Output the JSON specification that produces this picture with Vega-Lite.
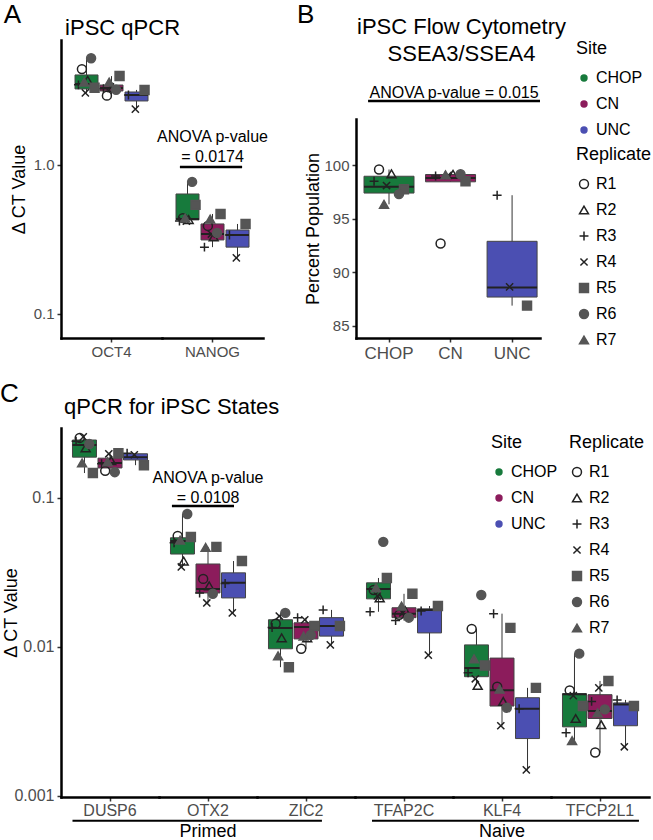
{
"$schema":"https://vega.github.io/schema/vega-lite/v6.json",
"padding":{"left":0,"top":2,"right":0,"bottom":0},
"config":{"view":{"stroke":null},"font":"Liberation Sans",
"axis":{"domainColor":"#000000","domainWidth":2.5,"domainCap":"square","tickColor":"#333333","tickWidth":1.5,"tickSize":4,"labelColor":"#4d4d4d","labelFontSize":15,"titleColor":"#000000","titleFontSize":18,"titleFontWeight":"normal","grid":false,"labelPadding":3},
"legend":{"titleFontSize":18,"titleFontWeight":"normal","labelFontSize":16,"labelColor":"#000000","rowPadding":10,"titlePadding":12,"padding":0}},
"datasets":{
"A":[
{"k":"box","gene":"OCT4","site":"CHOP","lo":3.04,"q1":3.24,"med":3.5,"q3":4.02,"hi":5.2},
{"k":"box","gene":"OCT4","site":"CN","lo":2.9,"q1":3.14,"med":3.29,"q3":3.44,"hi":3.95},
{"k":"box","gene":"OCT4","site":"UNC","lo":2.37,"q1":2.69,"med":2.95,"q3":3.09,"hi":3.19},
{"k":"box","gene":"NANOG","site":"CHOP","lo":0.415,"q1":0.428,"med":0.434,"q3":0.639,"hi":0.77},
{"k":"box","gene":"NANOG","site":"CN","lo":0.281,"q1":0.314,"med":0.344,"q3":0.402,"hi":0.469},
{"k":"box","gene":"NANOG","site":"UNC","lo":0.238,"q1":0.281,"med":0.339,"q3":0.366,"hi":0.402},
{"k":"pt","gene":"OCT4","site":"CHOP","rep":"R1","v":4.4},
{"k":"pt","gene":"OCT4","site":"CHOP","rep":"R2","v":3.7},
{"k":"pt","gene":"OCT4","site":"CHOP","rep":"R3","v":3.45},
{"k":"pt","gene":"OCT4","site":"CHOP","rep":"R4","v":3.05},
{"k":"pt","gene":"OCT4","site":"CHOP","rep":"R5","v":3.3},
{"k":"pt","gene":"OCT4","site":"CHOP","rep":"R6","v":5.2},
{"k":"pt","gene":"OCT4","site":"CHOP","rep":"R7","v":3.6},
{"k":"pt","gene":"OCT4","site":"CN","rep":"R1","v":2.92},
{"k":"pt","gene":"OCT4","site":"CN","rep":"R2","v":3.3},
{"k":"pt","gene":"OCT4","site":"CN","rep":"R3","v":3.25},
{"k":"pt","gene":"OCT4","site":"CN","rep":"R4","v":3.35},
{"k":"pt","gene":"OCT4","site":"CN","rep":"R5","v":3.95},
{"k":"pt","gene":"OCT4","site":"CN","rep":"R6","v":3.2},
{"k":"pt","gene":"OCT4","site":"CN","rep":"R7","v":3.6},
{"k":"pt","gene":"OCT4","site":"UNC","rep":"R3","v":2.95},
{"k":"pt","gene":"OCT4","site":"UNC","rep":"R4","v":2.37},
{"k":"pt","gene":"OCT4","site":"UNC","rep":"R5","v":3.19},
{"k":"pt","gene":"NANOG","site":"CHOP","rep":"R1","v":0.44},
{"k":"pt","gene":"NANOG","site":"CHOP","rep":"R2","v":0.43},
{"k":"pt","gene":"NANOG","site":"CHOP","rep":"R3","v":0.42},
{"k":"pt","gene":"NANOG","site":"CHOP","rep":"R4","v":0.42},
{"k":"pt","gene":"NANOG","site":"CHOP","rep":"R5","v":0.54},
{"k":"pt","gene":"NANOG","site":"CHOP","rep":"R6","v":0.77},
{"k":"pt","gene":"NANOG","site":"CHOP","rep":"R7","v":0.44},
{"k":"pt","gene":"NANOG","site":"CN","rep":"R1","v":0.39},
{"k":"pt","gene":"NANOG","site":"CN","rep":"R2","v":0.329},
{"k":"pt","gene":"NANOG","site":"CN","rep":"R3","v":0.281},
{"k":"pt","gene":"NANOG","site":"CN","rep":"R4","v":0.344},
{"k":"pt","gene":"NANOG","site":"CN","rep":"R5","v":0.469},
{"k":"pt","gene":"NANOG","site":"CN","rep":"R6","v":0.35},
{"k":"pt","gene":"NANOG","site":"CN","rep":"R7","v":0.434},
{"k":"pt","gene":"NANOG","site":"UNC","rep":"R3","v":0.339},
{"k":"pt","gene":"NANOG","site":"UNC","rep":"R4","v":0.238},
{"k":"pt","gene":"NANOG","site":"UNC","rep":"R5","v":0.402},
{"k":"gene","gene":"OCT4"},{"k":"gene","gene":"NANOG"},
{"k":"an1","gene":"NANOG","t":"ANOVA p-value"},
{"k":"an2","gene":"NANOG","t":"=  0.0174"},
{"k":"anl","gene":"NANOG"},
{"k":"letter","gene":"OCT4","t":"A"},
{"k":"title","gene":"OCT4","t":"iPSC qPCR"}
],
"B":[
{"k":"box","site":"CHOP","lo":96.35,"q1":97.4,"med":98.0,"q3":98.97,"hi":99.6},
{"k":"box","site":"CN","lo":98.45,"q1":98.45,"med":98.8,"q3":99.13,"hi":99.2},
{"k":"box","site":"UNC","lo":86.9,"q1":87.7,"med":88.6,"q3":92.9,"hi":97.2},
{"k":"pt","site":"CHOP","rep":"R1","v":99.6},
{"k":"pt","site":"CHOP","rep":"R2","v":99.2},
{"k":"pt","site":"CHOP","rep":"R3","v":98.5},
{"k":"pt","site":"CHOP","rep":"R4","v":98.1},
{"k":"pt","site":"CHOP","rep":"R5","v":97.75},
{"k":"pt","site":"CHOP","rep":"R6","v":97.3},
{"k":"pt","site":"CHOP","rep":"R7","v":96.35},
{"k":"pt","site":"CN","rep":"R1","v":92.7},
{"k":"pt","site":"CN","rep":"R2","v":99.15},
{"k":"pt","site":"CN","rep":"R3","v":99.0},
{"k":"pt","site":"CN","rep":"R4","v":99.05},
{"k":"pt","site":"CN","rep":"R5","v":98.5},
{"k":"pt","site":"CN","rep":"R6","v":99.15},
{"k":"pt","site":"CN","rep":"R7","v":99.1},
{"k":"pt","site":"UNC","rep":"R3","v":97.2},
{"k":"pt","site":"UNC","rep":"R4","v":88.65},
{"k":"pt","site":"UNC","rep":"R5","v":86.9},
{"k":"letter","t":"B"},
{"k":"t1","t":"iPSC Flow Cytometry"},
{"k":"t2","t":"SSEA3/SSEA4"},
{"k":"an","t":"ANOVA p-value = 0.015"},
{"k":"anl"}
],
"C":[
{"k":"box","gene":"DUSP6","site":"CHOP","lo":0.147,"q1":0.188,"med":0.227,"q3":0.245,"hi":0.257},
{"k":"box","gene":"DUSP6","site":"CN","lo":0.149,"q1":0.159,"med":0.172,"q3":0.185,"hi":0.2},
{"k":"box","gene":"DUSP6","site":"UNC","lo":0.166,"q1":0.18,"med":0.188,"q3":0.198,"hi":0.2},
{"k":"box","gene":"OTX2","site":"CHOP","lo":0.0344,"q1":0.042,"med":0.0514,"q3":0.054,"hi":0.078},
{"k":"box","gene":"OTX2","site":"CN","lo":0.0197,"q1":0.023,"med":0.0245,"q3":0.036,"hi":0.0469},
{"k":"box","gene":"OTX2","site":"UNC","lo":0.0169,"q1":0.0213,"med":0.0269,"q3":0.0314,"hi":0.0377},
{"k":"box","gene":"ZIC2","site":"CHOP","lo":0.0073,"q1":0.0097,"med":0.0134,"q3":0.0152,"hi":0.0169},
{"k":"box","gene":"ZIC2","site":"CN","lo":0.0097,"q1":0.0113,"med":0.0136,"q3":0.0145,"hi":0.0157},
{"k":"box","gene":"ZIC2","site":"UNC","lo":0.0103,"q1":0.0118,"med":0.0138,"q3":0.0157,"hi":0.0177},
{"k":"box","gene":"TFAP2C","site":"CHOP","lo":0.0172,"q1":0.021,"med":0.0245,"q3":0.0269,"hi":0.029},
{"k":"box","gene":"TFAP2C","site":"CN","lo":0.015,"q1":0.0157,"med":0.0167,"q3":0.0183,"hi":0.0227},
{"k":"box","gene":"TFAP2C","site":"UNC","lo":0.0088,"q1":0.0124,"med":0.0177,"q3":0.018,"hi":0.0188},
{"k":"box","gene":"KLF4","site":"CHOP","lo":0.0055,"q1":0.0063,"med":0.0072,"q3":0.0103,"hi":0.0132},
{"k":"box","gene":"KLF4","site":"CN","lo":0.00295,"q1":0.004,"med":0.0051,"q3":0.0084,"hi":0.0167},
{"k":"box","gene":"KLF4","site":"UNC","lo":0.00149,"q1":0.00242,"med":0.00384,"q3":0.00455,"hi":0.0053},
{"k":"box","gene":"TFCP2L1","site":"CHOP","lo":0.00234,"q1":0.0029,"med":0.0048,"q3":0.00484,"hi":0.009},
{"k":"box","gene":"TFCP2L1","site":"CN","lo":0.00195,"q1":0.0033,"med":0.0037,"q3":0.00477,"hi":0.0059},
{"k":"box","gene":"TFCP2L1","site":"UNC","lo":0.00213,"q1":0.00295,"med":0.0041,"q3":0.0042,"hi":0.0044},
{"k":"pt","gene":"DUSP6","site":"CHOP","rep":"R1","v":0.253},
{"k":"pt","gene":"DUSP6","site":"CHOP","rep":"R2","v":0.217},
{"k":"pt","gene":"DUSP6","site":"CHOP","rep":"R3","v":0.24},
{"k":"pt","gene":"DUSP6","site":"CHOP","rep":"R4","v":0.257},
{"k":"pt","gene":"DUSP6","site":"CHOP","rep":"R5","v":0.147},
{"k":"pt","gene":"DUSP6","site":"CHOP","rep":"R6","v":0.23},
{"k":"pt","gene":"DUSP6","site":"CHOP","rep":"R7","v":0.172},
{"k":"pt","gene":"DUSP6","site":"CN","rep":"R1","v":0.152},
{"k":"pt","gene":"DUSP6","site":"CN","rep":"R2","v":0.178},
{"k":"pt","gene":"DUSP6","site":"CN","rep":"R3","v":0.17},
{"k":"pt","gene":"DUSP6","site":"CN","rep":"R4","v":0.198},
{"k":"pt","gene":"DUSP6","site":"CN","rep":"R5","v":0.2},
{"k":"pt","gene":"DUSP6","site":"CN","rep":"R6","v":0.149},
{"k":"pt","gene":"DUSP6","site":"CN","rep":"R7","v":0.175},
{"k":"pt","gene":"DUSP6","site":"UNC","rep":"R3","v":0.2},
{"k":"pt","gene":"DUSP6","site":"UNC","rep":"R4","v":0.195},
{"k":"pt","gene":"DUSP6","site":"UNC","rep":"R5","v":0.166},
{"k":"pt","gene":"OTX2","site":"CHOP","rep":"R1","v":0.0556},
{"k":"pt","gene":"OTX2","site":"CHOP","rep":"R2","v":0.0377},
{"k":"pt","gene":"OTX2","site":"CHOP","rep":"R3","v":0.05},
{"k":"pt","gene":"OTX2","site":"CHOP","rep":"R4","v":0.0344},
{"k":"pt","gene":"OTX2","site":"CHOP","rep":"R5","v":0.0547},
{"k":"pt","gene":"OTX2","site":"CHOP","rep":"R6","v":0.078},
{"k":"pt","gene":"OTX2","site":"CHOP","rep":"R7","v":0.052},
{"k":"pt","gene":"OTX2","site":"CN","rep":"R1","v":0.0286},
{"k":"pt","gene":"OTX2","site":"CN","rep":"R2","v":0.0257},
{"k":"pt","gene":"OTX2","site":"CN","rep":"R3","v":0.023},
{"k":"pt","gene":"OTX2","site":"CN","rep":"R4","v":0.0197},
{"k":"pt","gene":"OTX2","site":"CN","rep":"R5","v":0.0469},
{"k":"pt","gene":"OTX2","site":"CN","rep":"R6","v":0.0227},
{"k":"pt","gene":"OTX2","site":"CN","rep":"R7","v":0.0465},
{"k":"pt","gene":"OTX2","site":"UNC","rep":"R3","v":0.0266},
{"k":"pt","gene":"OTX2","site":"UNC","rep":"R4","v":0.0169},
{"k":"pt","gene":"OTX2","site":"UNC","rep":"R5","v":0.0377},
{"k":"pt","gene":"ZIC2","site":"CHOP","rep":"R1","v":0.0143},
{"k":"pt","gene":"ZIC2","site":"CHOP","rep":"R2","v":0.0115},
{"k":"pt","gene":"ZIC2","site":"CHOP","rep":"R3","v":0.0135},
{"k":"pt","gene":"ZIC2","site":"CHOP","rep":"R4","v":0.0161},
{"k":"pt","gene":"ZIC2","site":"CHOP","rep":"R5","v":0.0073},
{"k":"pt","gene":"ZIC2","site":"CHOP","rep":"R6","v":0.0169},
{"k":"pt","gene":"ZIC2","site":"CHOP","rep":"R7","v":0.0087},
{"k":"pt","gene":"ZIC2","site":"CN","rep":"R1","v":0.0097},
{"k":"pt","gene":"ZIC2","site":"CN","rep":"R2","v":0.0115},
{"k":"pt","gene":"ZIC2","site":"CN","rep":"R3","v":0.0157},
{"k":"pt","gene":"ZIC2","site":"CN","rep":"R4","v":0.0152},
{"k":"pt","gene":"ZIC2","site":"CN","rep":"R5","v":0.0138},
{"k":"pt","gene":"ZIC2","site":"CN","rep":"R6","v":0.012},
{"k":"pt","gene":"ZIC2","site":"CN","rep":"R7","v":0.0118},
{"k":"pt","gene":"ZIC2","site":"UNC","rep":"R3","v":0.0177},
{"k":"pt","gene":"ZIC2","site":"UNC","rep":"R4","v":0.0103},
{"k":"pt","gene":"ZIC2","site":"UNC","rep":"R5","v":0.0138},
{"k":"pt","gene":"TFAP2C","site":"CHOP","rep":"R1","v":0.0241},
{"k":"pt","gene":"TFAP2C","site":"CHOP","rep":"R2","v":0.0213},
{"k":"pt","gene":"TFAP2C","site":"CHOP","rep":"R3","v":0.0172},
{"k":"pt","gene":"TFAP2C","site":"CHOP","rep":"R4","v":0.022},
{"k":"pt","gene":"TFAP2C","site":"CHOP","rep":"R5","v":0.029},
{"k":"pt","gene":"TFAP2C","site":"CHOP","rep":"R6","v":0.0507},
{"k":"pt","gene":"TFAP2C","site":"CHOP","rep":"R7","v":0.0249},
{"k":"pt","gene":"TFAP2C","site":"CN","rep":"R1","v":0.0164},
{"k":"pt","gene":"TFAP2C","site":"CN","rep":"R2","v":0.0175},
{"k":"pt","gene":"TFAP2C","site":"CN","rep":"R3","v":0.015},
{"k":"pt","gene":"TFAP2C","site":"CN","rep":"R4","v":0.0169},
{"k":"pt","gene":"TFAP2C","site":"CN","rep":"R5","v":0.0227},
{"k":"pt","gene":"TFAP2C","site":"CN","rep":"R6","v":0.0157},
{"k":"pt","gene":"TFAP2C","site":"CN","rep":"R7","v":0.0188},
{"k":"pt","gene":"TFAP2C","site":"UNC","rep":"R3","v":0.0174},
{"k":"pt","gene":"TFAP2C","site":"UNC","rep":"R4","v":0.0088},
{"k":"pt","gene":"TFAP2C","site":"UNC","rep":"R5","v":0.0188},
{"k":"pt","gene":"KLF4","site":"CHOP","rep":"R1","v":0.0132},
{"k":"pt","gene":"KLF4","site":"CHOP","rep":"R2","v":0.0055},
{"k":"pt","gene":"KLF4","site":"CHOP","rep":"R3","v":0.0067},
{"k":"pt","gene":"KLF4","site":"CHOP","rep":"R4","v":0.0061},
{"k":"pt","gene":"KLF4","site":"CHOP","rep":"R5","v":0.0075},
{"k":"pt","gene":"KLF4","site":"CHOP","rep":"R6","v":0.0223},
{"k":"pt","gene":"KLF4","site":"CHOP","rep":"R7","v":0.0083},
{"k":"pt","gene":"KLF4","site":"CN","rep":"R1","v":0.0054},
{"k":"pt","gene":"KLF4","site":"CN","rep":"R2","v":0.0043},
{"k":"pt","gene":"KLF4","site":"CN","rep":"R3","v":0.0167},
{"k":"pt","gene":"KLF4","site":"CN","rep":"R4","v":0.00295},
{"k":"pt","gene":"KLF4","site":"CN","rep":"R5","v":0.0134},
{"k":"pt","gene":"KLF4","site":"CN","rep":"R6","v":0.0039},
{"k":"pt","gene":"KLF4","site":"CN","rep":"R7","v":0.0052},
{"k":"pt","gene":"KLF4","site":"UNC","rep":"R3","v":0.00384},
{"k":"pt","gene":"KLF4","site":"UNC","rep":"R4","v":0.00149},
{"k":"pt","gene":"KLF4","site":"UNC","rep":"R5","v":0.0053},
{"k":"pt","gene":"TFCP2L1","site":"CHOP","rep":"R1","v":0.0051},
{"k":"pt","gene":"TFCP2L1","site":"CHOP","rep":"R2","v":0.0033},
{"k":"pt","gene":"TFCP2L1","site":"CHOP","rep":"R3","v":0.00265},
{"k":"pt","gene":"TFCP2L1","site":"CHOP","rep":"R4","v":0.0047},
{"k":"pt","gene":"TFCP2L1","site":"CHOP","rep":"R5","v":0.004},
{"k":"pt","gene":"TFCP2L1","site":"CHOP","rep":"R6","v":0.009},
{"k":"pt","gene":"TFCP2L1","site":"CHOP","rep":"R7","v":0.00234},
{"k":"pt","gene":"TFCP2L1","site":"CN","rep":"R1","v":0.00195},
{"k":"pt","gene":"TFCP2L1","site":"CN","rep":"R2","v":0.003},
{"k":"pt","gene":"TFCP2L1","site":"CN","rep":"R3","v":0.0043},
{"k":"pt","gene":"TFCP2L1","site":"CN","rep":"R4","v":0.0053},
{"k":"pt","gene":"TFCP2L1","site":"CN","rep":"R5","v":0.0059},
{"k":"pt","gene":"TFCP2L1","site":"CN","rep":"R6","v":0.0038},
{"k":"pt","gene":"TFCP2L1","site":"CN","rep":"R7","v":0.0036},
{"k":"pt","gene":"TFCP2L1","site":"UNC","rep":"R3","v":0.0044},
{"k":"pt","gene":"TFCP2L1","site":"UNC","rep":"R4","v":0.00213},
{"k":"pt","gene":"TFCP2L1","site":"UNC","rep":"R5","v":0.004},
{"k":"gene","gene":"DUSP6"},{"k":"gene","gene":"OTX2"},{"k":"gene","gene":"ZIC2"},
{"k":"gene","gene":"TFAP2C"},{"k":"gene","gene":"KLF4"},{"k":"gene","gene":"TFCP2L1"},
{"k":"grp","gene":"OTX2","t":"Primed"},{"k":"grp","gene":"KLF4","t":"Naive"},
{"k":"ula","gene":"DUSP6"},{"k":"ulb","gene":"TFAP2C"},{"k":"ulc","gene":"OTX2"},{"k":"ulc","gene":"KLF4"},{"k":"uld","gene":"ZIC2"},{"k":"ule","gene":"TFCP2L1"},
{"k":"an1","gene":"OTX2","t":"ANOVA p-value"},
{"k":"an2","gene":"OTX2","t":"= 0.0108"},
{"k":"anl","gene":"OTX2"},
{"k":"letter","gene":"DUSP6","t":"C"},
{"k":"title","gene":"DUSP6","t":"qPCR for iPSC States"}
]
},
"resolve":{"scale":{"color":"independent","shape":"independent","fill":"independent","stroke":"independent"},"legend":{"color":"independent","shape":"independent","fill":"independent","stroke":"independent"}},
"spacing":20,
"vconcat":[
{"spacing":28,
"resolve":{"scale":{"color":"independent","shape":"independent","fill":"independent","stroke":"independent"},"legend":{"color":"independent","shape":"independent","fill":"independent","stroke":"independent"}},
"hconcat":[
{"data":{"name":"A"},
"facet":{"column":{"field":"gene","type":"nominal","sort":["OCT4","NANOG"],"header":{"title":null,"labels":false}}},
"spacing":0,"bounds":"flush",
"spec":{"width":101,"height":298,
"layer":[
{"transform":[{"filter":"datum.k==='box'"}],"mark":{"type":"rule","color":"#333333","strokeWidth":1},
"encoding":{"x":{"field":"site","type":"nominal","scale":{"type":"band","domain":["CHOP","CN","UNC"],"paddingInner":0.08,"paddingOuter":0.56},"axis":{"values":["CN"],"labels":false},"title":null},
"y":{"field":"lo","type":"quantitative","scale":{"type":"log","domain":[0.069,6.9],"nice":false},"axis":{"values":[0.1,1],"format":".1f","titlePadding":5},"title":"Δ CT Value"},"y2":{"field":"hi"}}},
{"transform":[{"filter":"datum.k==='box'"}],"mark":{"type":"bar","width":23,"stroke":"#444444","strokeWidth":1},
"encoding":{"x":{"field":"site","type":"nominal","title":null},
"y":{"field":"q1","type":"quantitative","title":"Δ CT Value"},"y2":{"field":"q3"},
"color":{"field":"site","type":"nominal","scale":{"domain":["CHOP","CN","UNC"],"range":["#177a3c","#8c1c5c","#4b4fb2"]},"legend":null}}},
{"transform":[{"filter":"datum.k==='box'"}],"mark":{"type":"bar","width":23,"fill":"transparent","stroke":"#222222","strokeWidth":2},
"encoding":{"x":{"field":"site","type":"nominal","title":null},"y":{"field":"med","type":"quantitative","title":"Δ CT Value"},"y2":{"field":"med"}}},
{"transform":[{"filter":"datum.k==='pt'"}],
"encoding":{"y":{"field":"v","type":"quantitative","title":"Δ CT Value"},
"shape":{"field":"rep","type":"nominal","scale":{"domain":["R1","R2","R3","R4","R5","R6","R7"],"range":["circle","triangle-up","M-1,0L1,0M0,-1L0,1","M-0.8,-0.8L0.8,0.8M-0.8,0.8L0.8,-0.8","square","circle","triangle-up"]},"legend":null},
"fill":{"field":"rep","type":"nominal","scale":{"domain":["R1","R2","R3","R4","R5","R6","R7"],"range":["transparent","transparent","transparent","transparent","#555555","#555555","#555555"]},"legend":null},
"stroke":{"field":"rep","type":"nominal","scale":{"domain":["R1","R2","R3","R4","R5","R6","R7"],"range":["#222222","#222222","#222222","#222222","#555555","#555555","#555555"]},"legend":null}},
"layer":[
{"transform":[{"filter":"datum.rep==='R1'"}],"mark":{"type":"point","size":80,"strokeWidth":1.5,"opacity":1},"encoding":{"x":{"field":"site","type":"nominal","bandPosition":0.3,"title":null}}},
{"transform":[{"filter":"datum.rep==='R2'"}],"mark":{"type":"point","size":80,"strokeWidth":1.5,"opacity":1},"encoding":{"x":{"field":"site","type":"nominal","bandPosition":0.55,"title":null}}},
{"transform":[{"filter":"datum.rep==='R3'"}],"mark":{"type":"point","size":80,"strokeWidth":1.5,"opacity":1},"encoding":{"x":{"field":"site","type":"nominal","bandPosition":0.15,"title":null}}},
{"transform":[{"filter":"datum.rep==='R4'"}],"mark":{"type":"point","size":80,"strokeWidth":1.5,"opacity":1},"encoding":{"x":{"field":"site","type":"nominal","bandPosition":0.45,"title":null}}},
{"transform":[{"filter":"datum.rep==='R5'"}],"mark":{"type":"point","size":80,"strokeWidth":1.5,"opacity":1},"encoding":{"x":{"field":"site","type":"nominal","bandPosition":0.85,"title":null}}},
{"transform":[{"filter":"datum.rep==='R6'"}],"mark":{"type":"point","size":80,"strokeWidth":1.5,"opacity":1},"encoding":{"x":{"field":"site","type":"nominal","bandPosition":0.7,"title":null}}},
{"transform":[{"filter":"datum.rep==='R7'"}],"mark":{"type":"point","size":80,"strokeWidth":1.5,"opacity":1},"encoding":{"x":{"field":"site","type":"nominal","bandPosition":0.4,"title":null}}}
]},
{"transform":[{"filter":"datum.k==='gene'"}],"mark":{"type":"text","fontSize":15,"color":"#4d4d4d","baseline":"middle"},
"encoding":{"x":{"datum":"CN"},"y":{"datum":0.0555,"type":"quantitative","title":"Δ CT Value"},"text":{"field":"gene"}}},
{"transform":[{"filter":"datum.k==='an1'"}],"mark":{"type":"text","fontSize":16,"color":"#000000","baseline":"middle"},
"encoding":{"x":{"datum":"CN"},"y":{"datum":1.54,"type":"quantitative","title":"Δ CT Value"},"text":{"field":"t"}}},
{"transform":[{"filter":"datum.k==='an2'"}],"mark":{"type":"text","fontSize":16,"color":"#000000","baseline":"middle"},
"encoding":{"x":{"datum":"CN"},"y":{"datum":1.13,"type":"quantitative","title":"Δ CT Value"},"text":{"field":"t"}}},
{"transform":[{"filter":"datum.k==='anl'"}],"mark":{"type":"rule","color":"#000000","strokeWidth":2.5},
"encoding":{"x":{"datum":"CHOP","bandPosition":0.17},"x2":{"datum":"UNC","bandPosition":0.7},"y":{"datum":0.97,"type":"quantitative","title":"Δ CT Value"}}},
{"transform":[{"filter":"datum.k==='letter'"}],"mark":{"type":"text","fontSize":26,"color":"#000000","baseline":"middle"},
"encoding":{"x":{"datum":"CHOP","bandPosition":-2.72},"y":{"datum":10.15,"type":"quantitative","title":"Δ CT Value"},"text":{"field":"t"}}},
{"transform":[{"filter":"datum.k==='title'"}],"mark":{"type":"text","fontSize":22,"color":"#000000","baseline":"middle","align":"left"},
"encoding":{"x":{"datum":"CHOP","bandPosition":-0.43},"y":{"datum":8.31,"type":"quantitative","title":"Δ CT Value"},"text":{"field":"t"}}}
]}},
{"data":{"name":"B"},"width":184,"height":298,
"layer":[
{"transform":[{"filter":"datum.k==='box'"}],"mark":{"type":"rule","color":"#333333","strokeWidth":1},
"encoding":{"x":{"field":"site","type":"nominal","scale":{"type":"band","domain":["CHOP","CN","UNC"],"paddingInner":0.19,"paddingOuter":0.09,"align":0.73},"axis":{"labelFontSize":17,"labelPadding":3,"labelAngle":0},"title":null},
"y":{"field":"lo","type":"quantitative","scale":{"domain":[83.88,104.31],"range":[298,79],"nice":false,"zero":false},"axis":{"values":[85,90,95,100],"titlePadding":1},"title":"Percent Population"},"y2":{"field":"hi"}}},
{"transform":[{"filter":"datum.k==='box'"}],"mark":{"type":"bar","width":50,"stroke":"#444444","strokeWidth":1},
"encoding":{"x":{"field":"site","type":"nominal","title":null},"y":{"field":"q1","type":"quantitative","title":"Percent Population"},"y2":{"field":"q3"},
"color":{"field":"site","type":"nominal","scale":{"domain":["CHOP","CN","UNC"],"range":["#177a3c","#8c1c5c","#4b4fb2"]},"legend":{"title":"Site","orient":"right","offset":36,"symbolType":"circle","symbolSize":55,"symbolStrokeWidth":0}}}},
{"transform":[{"filter":"datum.k==='box'"}],"mark":{"type":"bar","width":50,"fill":"transparent","stroke":"#222222","strokeWidth":2},
"encoding":{"x":{"field":"site","type":"nominal","title":null},"y":{"field":"med","type":"quantitative","title":"Percent Population"},"y2":{"field":"med"}}},
{"transform":[{"filter":"datum.k==='pt'"}],
"encoding":{"y":{"field":"v","type":"quantitative","title":"Percent Population"},
"shape":{"field":"rep","type":"nominal","scale":{"domain":["R1","R2","R3","R4","R5","R6","R7"],"range":["circle","triangle-up","M-1,0L1,0M0,-1L0,1","M-0.8,-0.8L0.8,0.8M-0.8,0.8L0.8,-0.8","square","circle","triangle-up"]},"legend":{"title":"Replicate","orient":"right","offset":36,"symbolSize":80,"symbolStrokeWidth":1.5}},
"fill":{"field":"rep","type":"nominal","scale":{"domain":["R1","R2","R3","R4","R5","R6","R7"],"range":["transparent","transparent","transparent","transparent","#555555","#555555","#555555"]},"legend":{"title":"Replicate","orient":"right","offset":36,"symbolSize":80,"symbolStrokeWidth":1.5}},
"stroke":{"field":"rep","type":"nominal","scale":{"domain":["R1","R2","R3","R4","R5","R6","R7"],"range":["#222222","#222222","#222222","#222222","#555555","#555555","#555555"]},"legend":{"title":"Replicate","orient":"right","offset":36,"symbolSize":80,"symbolStrokeWidth":1.5}}},
"layer":[
{"transform":[{"filter":"datum.rep==='R1'"}],"mark":{"type":"point","size":80,"strokeWidth":1.5,"opacity":1},"encoding":{"x":{"field":"site","type":"nominal","bandPosition":0.3,"title":null}}},
{"transform":[{"filter":"datum.rep==='R2'"}],"mark":{"type":"point","size":80,"strokeWidth":1.5,"opacity":1},"encoding":{"x":{"field":"site","type":"nominal","bandPosition":0.55,"title":null}}},
{"transform":[{"filter":"datum.rep==='R3'"}],"mark":{"type":"point","size":80,"strokeWidth":1.5,"opacity":1},"encoding":{"x":{"field":"site","type":"nominal","bandPosition":0.2,"title":null}}},
{"transform":[{"filter":"datum.rep==='R4'"}],"mark":{"type":"point","size":80,"strokeWidth":1.5,"opacity":1},"encoding":{"x":{"field":"site","type":"nominal","bandPosition":0.45,"title":null}}},
{"transform":[{"filter":"datum.rep==='R5'"}],"mark":{"type":"point","size":80,"strokeWidth":1.5,"opacity":1},"encoding":{"x":{"field":"site","type":"nominal","bandPosition":0.8,"title":null}}},
{"transform":[{"filter":"datum.rep==='R6'"}],"mark":{"type":"point","size":80,"strokeWidth":1.5,"opacity":1},"encoding":{"x":{"field":"site","type":"nominal","bandPosition":0.7,"title":null}}},
{"transform":[{"filter":"datum.rep==='R7'"}],"mark":{"type":"point","size":80,"strokeWidth":1.5,"opacity":1},"encoding":{"x":{"field":"site","type":"nominal","bandPosition":0.4,"title":null}}}
]},
{"transform":[{"filter":"datum.k==='letter'"}],"mark":{"type":"text","fontSize":26,"color":"#000000","baseline":"middle"},
"encoding":{"x":{"datum":"CHOP","bandPosition":-1.17},"y":{"datum":114.0,"type":"quantitative","title":"Percent Population"},"text":{"field":"t"}}},
{"transform":[{"filter":"datum.k==='t1'"}],"mark":{"type":"text","fontSize":22,"color":"#000000","baseline":"middle"},
"encoding":{"x":{"datum":"CN","bandPosition":0.72},"y":{"datum":112.9,"type":"quantitative","title":"Percent Population"},"text":{"field":"t"}}},
{"transform":[{"filter":"datum.k==='t2'"}],"mark":{"type":"text","fontSize":22,"color":"#000000","baseline":"middle"},
"encoding":{"x":{"datum":"CN","bandPosition":0.72},"y":{"datum":110.37,"type":"quantitative","title":"Percent Population"},"text":{"field":"t"}}},
{"transform":[{"filter":"datum.k==='an'"}],"mark":{"type":"text","fontSize":16,"color":"#000000","baseline":"middle"},
"encoding":{"x":{"datum":"CN","bandPosition":0.57},"y":{"datum":106.73,"type":"quantitative","title":"Percent Population"},"text":{"field":"t"}}},
{"transform":[{"filter":"datum.k==='anl'"}],"mark":{"type":"rule","color":"#000000","strokeWidth":2.5},
"encoding":{"x":{"datum":"CHOP","bandPosition":0.08},"x2":{"datum":"UNC","bandPosition":1.06},"y":{"datum":105.99,"type":"quantitative","title":"Percent Population"}}}
]}
]},
{"data":{"name":"C"},
"facet":{"column":{"field":"gene","type":"nominal","sort":["DUSP6","OTX2","ZIC2","TFAP2C","KLF4","TFCP2L1"],"header":{"title":null,"labels":false}}},
"spacing":0,"bounds":"flush",
"spec":{"width":98,"height":369,
"layer":[
{"transform":[{"filter":"datum.k==='box'"}],"mark":{"type":"rule","color":"#333333","strokeWidth":1},
"encoding":{"x":{"field":"site","type":"nominal","scale":{"type":"band","domain":["CHOP","CN","UNC"],"paddingInner":0.06,"paddingOuter":0.45},"axis":{"values":["CN"],"labels":false},"title":null},
"y":{"field":"lo","type":"quantitative","scale":{"type":"log","domain":[0.00098,0.295],"nice":false},"axis":{"values":[0.001,0.01,0.1],"format":"~g","labelFontSize":16,"titlePadding":-7},"title":"Δ CT Value"},"y2":{"field":"hi"}}},
{"transform":[{"filter":"datum.k==='box'"}],"mark":{"type":"bar","width":24,"stroke":"#444444","strokeWidth":1},
"encoding":{"x":{"field":"site","type":"nominal","title":null},"y":{"field":"q1","type":"quantitative","title":"Δ CT Value"},"y2":{"field":"q3"},
"color":{"field":"site","type":"nominal","scale":{"domain":["CHOP","CN","UNC"],"range":["#177a3c","#8c1c5c","#4b4fb2"]},"legend":{"title":"Site","orient":"none","legendX":430,"legendY":6,"symbolType":"circle","symbolSize":55,"symbolStrokeWidth":0}}}},
{"transform":[{"filter":"datum.k==='box'"}],"mark":{"type":"bar","width":24,"fill":"transparent","stroke":"#222222","strokeWidth":2},
"encoding":{"x":{"field":"site","type":"nominal","title":null},"y":{"field":"med","type":"quantitative","title":"Δ CT Value"},"y2":{"field":"med"}}},
{"transform":[{"filter":"datum.k==='pt'"}],
"encoding":{"y":{"field":"v","type":"quantitative","title":"Δ CT Value"},
"shape":{"field":"rep","type":"nominal","scale":{"domain":["R1","R2","R3","R4","R5","R6","R7"],"range":["circle","triangle-up","M-1,0L1,0M0,-1L0,1","M-0.8,-0.8L0.8,0.8M-0.8,0.8L0.8,-0.8","square","circle","triangle-up"]},"legend":{"title":"Replicate","orient":"none","legendX":508,"legendY":6,"symbolSize":80,"symbolStrokeWidth":1.5}},
"fill":{"field":"rep","type":"nominal","scale":{"domain":["R1","R2","R3","R4","R5","R6","R7"],"range":["transparent","transparent","transparent","transparent","#555555","#555555","#555555"]},"legend":{"title":"Replicate","orient":"none","legendX":508,"legendY":6,"symbolSize":80,"symbolStrokeWidth":1.5}},
"stroke":{"field":"rep","type":"nominal","scale":{"domain":["R1","R2","R3","R4","R5","R6","R7"],"range":["#222222","#222222","#222222","#222222","#555555","#555555","#555555"]},"legend":{"title":"Replicate","orient":"none","legendX":508,"legendY":6,"symbolSize":80,"symbolStrokeWidth":1.5}}},
"layer":[
{"transform":[{"filter":"datum.rep==='R1'"}],"mark":{"type":"point","size":80,"strokeWidth":1.5,"opacity":1},"encoding":{"x":{"field":"site","type":"nominal","bandPosition":0.3,"title":null}}},
{"transform":[{"filter":"datum.rep==='R2'"}],"mark":{"type":"point","size":80,"strokeWidth":1.5,"opacity":1},"encoding":{"x":{"field":"site","type":"nominal","bandPosition":0.55,"title":null}}},
{"transform":[{"filter":"datum.rep==='R3'"}],"mark":{"type":"point","size":80,"strokeWidth":1.5,"opacity":1},"encoding":{"x":{"field":"site","type":"nominal","bandPosition":0.15,"title":null}}},
{"transform":[{"filter":"datum.rep==='R4'"}],"mark":{"type":"point","size":80,"strokeWidth":1.5,"opacity":1},"encoding":{"x":{"field":"site","type":"nominal","bandPosition":0.45,"title":null}}},
{"transform":[{"filter":"datum.rep==='R5'"}],"mark":{"type":"point","size":80,"strokeWidth":1.5,"opacity":1},"encoding":{"x":{"field":"site","type":"nominal","bandPosition":0.85,"title":null}}},
{"transform":[{"filter":"datum.rep==='R6'"}],"mark":{"type":"point","size":80,"strokeWidth":1.5,"opacity":1},"encoding":{"x":{"field":"site","type":"nominal","bandPosition":0.7,"title":null}}},
{"transform":[{"filter":"datum.rep==='R7'"}],"mark":{"type":"point","size":80,"strokeWidth":1.5,"opacity":1},"encoding":{"x":{"field":"site","type":"nominal","bandPosition":0.4,"title":null}}}
]},
{"transform":[{"filter":"datum.k==='gene'"}],"mark":{"type":"text","fontSize":16,"color":"#4d4d4d","baseline":"middle"},
"encoding":{"x":{"datum":"CN"},"y":{"datum":0.000793,"type":"quantitative","title":"Δ CT Value"},"text":{"field":"gene"}}},
{"transform":[{"filter":"datum.k==='grp'"}],"mark":{"type":"text","fontSize":18,"color":"#000000","baseline":"middle"},
"encoding":{"x":{"datum":"CN"},"y":{"datum":0.000568,"type":"quantitative","title":"Δ CT Value"},"text":{"field":"t"}}},
{"transform":[{"filter":"datum.k==='ula'"}],"mark":{"type":"rule","color":"#000000","strokeWidth":2},
"encoding":{"x":{"datum":"CHOP","bandPosition":0},"x2":{"datum":"UNC","bandPosition":1.48},"y":{"datum":0.000679,"type":"quantitative","title":"Δ CT Value"}}},
{"transform":[{"filter":"datum.k==='ulb'"}],"mark":{"type":"rule","color":"#000000","strokeWidth":2},
"encoding":{"x":{"datum":"CHOP","bandPosition":0.23},"x2":{"datum":"UNC","bandPosition":1.48},"y":{"datum":0.000679,"type":"quantitative","title":"Δ CT Value"}}},
{"transform":[{"filter":"datum.k==='ulc'"}],"mark":{"type":"rule","color":"#000000","strokeWidth":2},
"encoding":{"x":{"datum":"CHOP","bandPosition":-0.48},"x2":{"datum":"UNC","bandPosition":1.48},"y":{"datum":0.000679,"type":"quantitative","title":"Δ CT Value"}}},
{"transform":[{"filter":"datum.k==='uld'"}],"mark":{"type":"rule","color":"#000000","strokeWidth":2},
"encoding":{"x":{"datum":"CHOP","bandPosition":-0.48},"x2":{"datum":"UNC","bandPosition":0.1},"y":{"datum":0.000679,"type":"quantitative","title":"Δ CT Value"}}},
{"transform":[{"filter":"datum.k==='ule'"}],"mark":{"type":"rule","color":"#000000","strokeWidth":2},
"encoding":{"x":{"datum":"CHOP","bandPosition":-0.48},"x2":{"datum":"UNC","bandPosition":1.06},"y":{"datum":0.000679,"type":"quantitative","title":"Δ CT Value"}}},
{"transform":[{"filter":"datum.k==='an1'"}],"mark":{"type":"text","fontSize":16,"color":"#000000","baseline":"middle"},
"encoding":{"x":{"datum":"CN"},"y":{"datum":0.136,"type":"quantitative","title":"Δ CT Value"},"text":{"field":"t"}}},
{"transform":[{"filter":"datum.k==='an2'"}],"mark":{"type":"text","fontSize":16,"color":"#000000","baseline":"middle"},
"encoding":{"x":{"datum":"CN"},"y":{"datum":0.1,"type":"quantitative","title":"Δ CT Value"},"text":{"field":"t"}}},
{"transform":[{"filter":"datum.k==='anl'"}],"mark":{"type":"rule","color":"#000000","strokeWidth":2.5},
"encoding":{"x":{"datum":"CHOP","bandPosition":0.06},"x2":{"datum":"UNC","bandPosition":0.52},"y":{"datum":0.0884,"type":"quantitative","title":"Δ CT Value"}}},
{"transform":[{"filter":"datum.k==='letter'"}],"mark":{"type":"text","fontSize":26,"color":"#000000","baseline":"middle"},
"encoding":{"x":{"datum":"CHOP","bandPosition":-2.63},"y":{"datum":0.499,"type":"quantitative","title":"Δ CT Value"},"text":{"field":"t"}}},
{"transform":[{"filter":"datum.k==='title'"}],"mark":{"type":"text","fontSize":22,"color":"#000000","baseline":"middle","align":"left"},
"encoding":{"x":{"datum":"CHOP","bandPosition":-0.35},"y":{"datum":0.408,"type":"quantitative","title":"Δ CT Value"},"text":{"field":"t"}}}
]}}
]
}
